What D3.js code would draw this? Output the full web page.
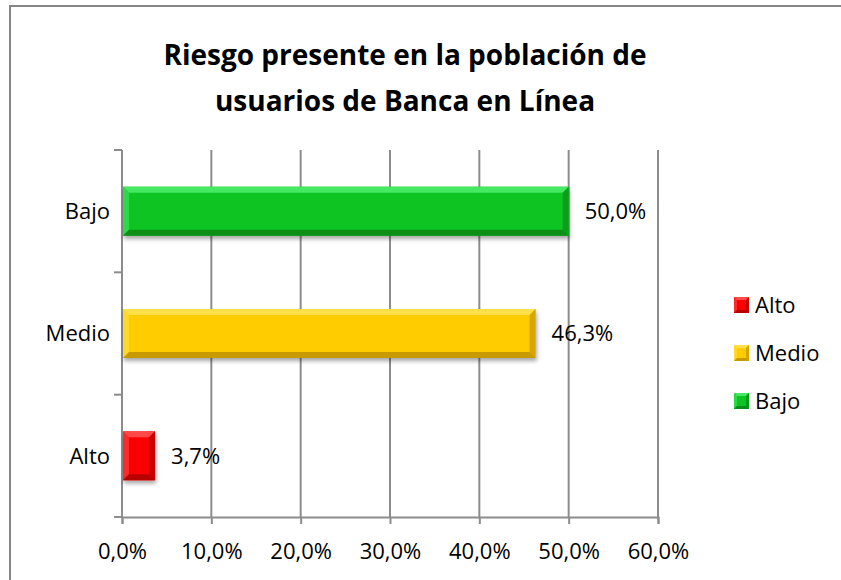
<!DOCTYPE html>
<html>
<head>
<meta charset="utf-8">
<script src="https://cdn.jsdelivr.net/npm/d3@7"></script>
<style>
  body { margin: 0; background: #fff; }
  text { font-family: "Open Sans", sans-serif; fill: #000; }
</style>
</head>
<body>
<div id="viz"></div>
<script>
var width = 841;
var height = 580;

// data
var categories = ["Bajo", "Medio", "Alto"];     // top to bottom
var values     = [50.0, 46.3, 3.7];
var legendOrder = ["Alto", "Medio", "Bajo"];
var xTicks     = [0, 10, 20, 30, 40, 50, 60];
var titleLines = ["Riesgo presente en la población de", "usuarios de Banca en Línea"];

var palette = {
	"Bajo":  {main: "#0dc424", light: "#45e862", dark: "#078f18"},
	"Medio": {main: "#ffcc00", light: "#ffe04a", dark: "#c79a00"},
	"Alto":  {main: "#fb0000", light: "#ff4a4a", dark: "#b80000"}
};

// plot area (top is a window property, so use other names)
var pLeft = 122, pRight = 658, pTop = 150, pBottom = 517;
var bevel = 6;
var fontSize = "22px";

function fmt(v){
	return v.toFixed(1).replace(".", ",") + "%";
}

var svg = d3.select("#viz").append("svg")
	.attr("width", width)
	.attr("height", height);

var defs = svg.append("defs");
var shadow = defs.append("filter").attr("id", "shadow")
	.attr("x", "-10%").attr("y", "-20%").attr("width", "130%").attr("height", "160%");
shadow.append("feGaussianBlur").attr("in", "SourceAlpha").attr("stdDeviation", 2);
shadow.append("feOffset").attr("dx", 1).attr("dy", 3).attr("result", "off");
shadow.append("feComponentTransfer").append("feFuncA").attr("type", "linear").attr("slope", 0.35);
var merge = shadow.append("feMerge");
merge.append("feMergeNode");
merge.append("feMergeNode").attr("in", "SourceGraphic");

// chart frame
svg.append("rect")
	.attr("x", 10).attr("y", 6)
	.attr("width", width + 20).attr("height", height + 20)
	.attr("fill", "none")
	.attr("stroke", "#868686")
	.attr("stroke-width", 2);

// title
svg.append("g").selectAll("text")
	.data(titleLines)
	.enter().append("text")
	.attr("x", 405)
	.attr("y", function(d, i){ return 65 + i * 46; })
	.attr("text-anchor", "middle")
	.style("font-weight", "bold")
	.style("font-size", "28px")
	.text(function(d){ return d; });

var x = d3.scaleLinear().domain([0, 60]).range([pLeft, pRight]);
var y = d3.scaleBand().domain(categories).range([pTop, pBottom])
	.paddingInner(0.6).paddingOuter(0.3);

// gridlines
svg.append("g").selectAll("line")
	.data(xTicks.slice(1))
	.enter().append("line")
	.attr("x1", function(d){ return x(d); })
	.attr("x2", function(d){ return x(d); })
	.attr("y1", pTop).attr("y2", pBottom)
	.attr("stroke", "#8c8c8c")
	.attr("stroke-width", 2);

// x axis
var xAxis = svg.append("g")
	.attr("transform", "translate(0," + pBottom + ")")
	.call(d3.axisBottom(x).tickValues(xTicks).tickSize(7).tickPadding(19)
		.tickFormat(function(d){ return fmt(d); }));
xAxis.select(".domain").attr("stroke", "#8c8c8c").attr("stroke-width", 2);
xAxis.selectAll(".tick line").attr("stroke", "#8c8c8c").attr("stroke-width", 2);
xAxis.selectAll(".tick text")
	.style("font-family", "Open Sans, sans-serif")
	.style("font-size", fontSize)
	.attr("fill", "#000");

// y axis: ticks sit between categories
var yEdges = [pTop];
categories.forEach(function(c){ yEdges.push(y(c) + y.bandwidth() / 2 + y.step() / 2); });
var yAxis = svg.append("g");
yAxis.append("line")
	.attr("x1", pLeft).attr("x2", pLeft)
	.attr("y1", pTop).attr("y2", pBottom)
	.attr("stroke", "#8c8c8c").attr("stroke-width", 2);
yAxis.selectAll("line.tick")
	.data(yEdges)
	.enter().append("line")
	.attr("class", "tick")
	.attr("x1", pLeft - 8).attr("x2", pLeft)
	.attr("y1", function(d){ return d; })
	.attr("y2", function(d){ return d; })
	.attr("stroke", "#8c8c8c").attr("stroke-width", 2);
yAxis.selectAll("text")
	.data(categories)
	.enter().append("text")
	.attr("x", 110)
	.attr("y", function(d){ return y(d) + y.bandwidth() / 2; })
	.attr("dy", "0.35em")
	.attr("text-anchor", "end")
	.style("font-size", fontSize)
	.text(function(d){ return d; });

// bevelled bars
function bevelBox(g, x0, y0, w, h, col, b){
	var x1 = x0 + w, y1 = y0 + h;
	b = Math.min(b, w / 2, h / 2);
	g.append("rect").attr("x", x0).attr("y", y0).attr("width", w).attr("height", h)
		.attr("fill", col.main);
	g.append("polygon").attr("points", [[x0,y0],[x1,y0],[x1-b,y0+b],[x0+b,y0+b]].join(" "))
		.attr("fill", col.light);
	g.append("polygon").attr("points", [[x0,y0],[x0+b,y0+b],[x0+b,y1-b],[x0,y1]].join(" "))
		.attr("fill", col.light).attr("opacity", 0.6);
	g.append("polygon").attr("points", [[x0,y1],[x0+b,y1-b],[x1-b,y1-b],[x1,y1]].join(" "))
		.attr("fill", col.dark);
	g.append("polygon").attr("points", [[x1,y0],[x1,y1],[x1-b,y1-b],[x1-b,y0+b]].join(" "))
		.attr("fill", col.dark).attr("opacity", 0.75);
}

var bars = svg.append("g");
categories.forEach(function(c, i){
	var g = bars.append("g").attr("filter", "url(#shadow)");
	bevelBox(g, x(0) + 1, y(c), x(values[i]) - x(0) - 1, y.bandwidth(), palette[c], bevel);
});

// value labels
svg.append("g").selectAll("text")
	.data(categories)
	.enter().append("text")
	.attr("x", function(d, i){ return x(values[i]) + 16; })
	.attr("y", function(d){ return y(d) + y.bandwidth() / 2; })
	.attr("dy", "0.35em")
	.style("font-size", fontSize)
	.text(function(d, i){ return fmt(values[i]); });

// legend
var legend = svg.append("g").selectAll("g")
	.data(legendOrder)
	.enter().append("g")
	.attr("transform", function(d, i){ return "translate(734," + (305 + i * 48) + ")"; });
legend.each(function(d){
	bevelBox(d3.select(this), 0, -8, 15, 16, palette[d], 3);
});
legend.append("text")
	.attr("x", 21)
	.attr("y", 0)
	.attr("dy", "0.35em")
	.style("font-size", fontSize)
	.text(function(d){ return d; });
</script>
</body>
</html>
